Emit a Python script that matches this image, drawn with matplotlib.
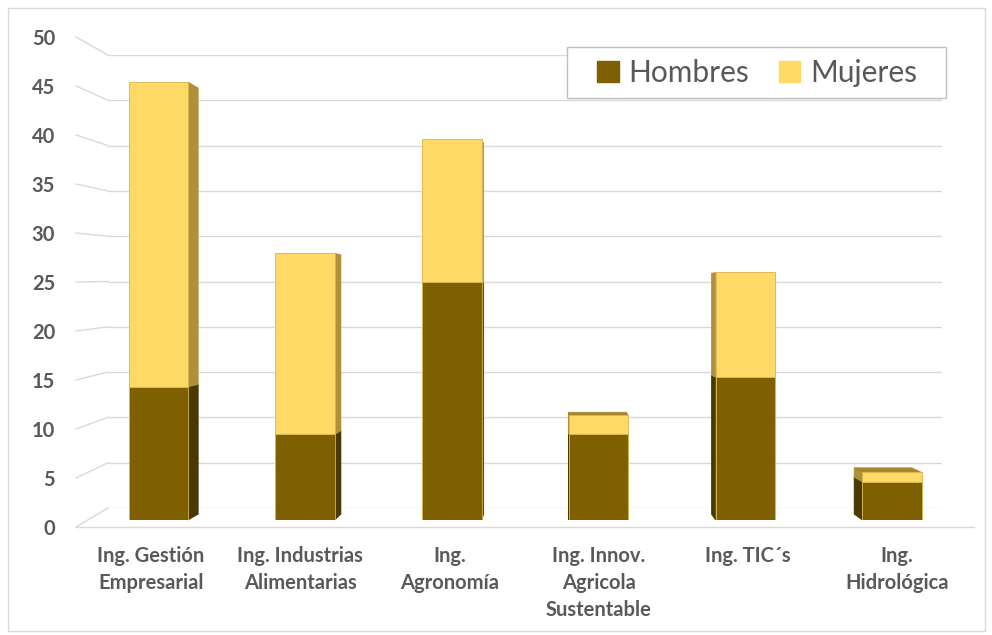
import matplotlib
matplotlib.use('Agg')
import numpy as np
import matplotlib.pyplot as plt
from matplotlib.patches import Polygon, Rectangle, Patch
from matplotlib.lines import Line2D

categorias = ['Ing. Gestión\nEmpresarial', 'Ing. Industrias\nAlimentarias', 'Ing.\nAgronomía',
              'Ing. Innov.\nAgricola\nSustentable', 'Ing. TIC´s', 'Ing.\nHidrológica']
hombres = [14, 9, 25, 9, 15, 4]
mujeres = [32, 19, 15, 2, 11, 1]
ticks = list(range(0, 55, 5))

plt.rcParams['font.family'] = ['Lato', 'DejaVu Sans']

W, H = 992, 635
GRID = '#d9d9d9'
TXT = '#595959'
C_H, C_H_SIDE = '#7f6000', '#4a3800'
C_M, C_M_SIDE, C_M_TOP = '#ffd966', '#b0903a', '#a8862a'
EDGE = '#d6b548'
# vanishing point (display px) and depth factor for the fake 3d look
VP = np.array([560.0, 332.0])
K = 0.027


def px_rect(x0, y0, x1, y1):
    # image pixel box (y down) -> figure fraction rect
    return [x0 / W, 1 - y1 / H, (x1 - x0) / W, (y1 - y0) / H]


fig = plt.figure(figsize=(W / 100, H / 100), dpi=100)
fig.add_artist(Rectangle((8 / W, 4 / H), 977 / W, 623 / H, transform=fig.transFigure,
                         fill=False, edgecolor='#d9d9d9', lw=1))

# back wall gridlines
ax_wall = fig.add_axes(px_rect(108, 55, 942, 508))
ax_wall.set_xlim(0, 1)
ax_wall.set_ylim(0, 50)
ax_wall.axis('off')
for t in ticks:
    ax_wall.axhline(t, color=GRID, lw=1.0)

# front axis with tick labels and category labels
ax_lab = fig.add_axes(px_rect(76, 37, 974, 527))
ax_lab.patch.set_alpha(0)
ax_lab.set_ylim(0, 50)
ax_lab.set_xlim(-0.503, 5.516)
ax_lab.set_yticks(ticks)
ax_lab.set_yticklabels([str(t) for t in ticks], fontsize=14.5, fontweight='bold', color=TXT)
ax_lab.set_xticks(np.arange(len(categorias)))
ax_lab.set_xticklabels(categorias, fontsize=14.5, fontweight='bold', color=TXT, linespacing=1.42)
ax_lab.tick_params(axis='y', length=0, pad=15)
ax_lab.tick_params(axis='x', length=0, pad=14)
for s in ax_lab.spines.values():
    s.set_visible(False)
ax_lab.axhline(0, color=GRID, lw=1.0, clip_on=False)

# slanted side-wall lines from label level to back wall
inv = fig.transFigure.inverted()
for t in ticks:
    p0 = inv.transform(ax_lab.transData.transform((ax_lab.get_xlim()[0], t)))
    p1 = inv.transform(ax_wall.transData.transform((0, t)))
    fig.add_artist(Line2D([p0[0], p1[0]], [p0[1], p1[1]], transform=fig.transFigure,
                          color=GRID, lw=1.0))

# bars
ax = fig.add_axes(px_rect(75, 44, 975, 520))
ax.patch.set_alpha(0)
ax.set_xlim(-0.569, 5.566)
ax.set_ylim(0, 50)
ax.axis('off')
x = np.arange(len(categorias))
bw = 0.405
bh = ax.bar(x, hombres, bw, color=C_H, edgecolor=EDGE, lw=0.6, zorder=3)
bm = ax.bar(x, mujeres, bw, bottom=hombres, color=C_M, edgecolor=EDGE, lw=0.6, zorder=3)


def back(p):
    return p + (VP - p) * K


def add_face(pts_disp, color):
    pts = ax.transData.inverted().transform(np.array(pts_disp))
    ax.add_patch(Polygon(pts, closed=True, facecolor=color, edgecolor=color, lw=0.5,
                         zorder=2, clip_on=False))


for i in range(len(categorias)):
    for rect, side_c, top in [(bh[i], C_H_SIDE, False), (bm[i], C_M_SIDE, True)]:
        x0, y0 = rect.get_x(), rect.get_y()
        x1, y1 = x0 + rect.get_width(), y0 + rect.get_height()
        d00 = ax.transData.transform((x0, y0))
        d11 = ax.transData.transform((x1, y1))
        cx = (d00[0] + d11[0]) / 2
        xe = d11[0] if cx < VP[0] else d00[0]
        fb, ft = np.array([xe, d00[1]]), np.array([xe, d11[1]])
        add_face([fb, ft, back(ft), back(fb)], side_c)
        if top and d11[1] < VP[1]:
            tl, tr = np.array([d00[0], d11[1]]), np.array([d11[0], d11[1]])
            add_face([tl, tr, back(tr), back(tl)], C_M_TOP)

# legend: frame drawn separately so the padding matches the original box
fig.add_artist(Rectangle((567 / W, 1 - 98 / H), 379 / W, 51 / H, transform=fig.transFigure,
                         facecolor='white', edgecolor='#bfbfbf', lw=1.0, zorder=4))
handles = [Patch(facecolor=C_H, edgecolor=C_H), Patch(facecolor=C_M, edgecolor=C_M)]
leg = fig.legend(handles, ['Hombres', 'Mujeres'], loc='center left',
                 bbox_to_anchor=(597 / W, 1 - 73 / H), ncol=2, fontsize=21.5,
                 frameon=False, borderpad=0, borderaxespad=0,
                 handlelength=0.72, handleheight=0.72, handletextpad=0.33,
                 columnspacing=1.0, labelcolor=TXT)
leg.set_zorder(5)

fig.savefig('out.png', dpi=100)
